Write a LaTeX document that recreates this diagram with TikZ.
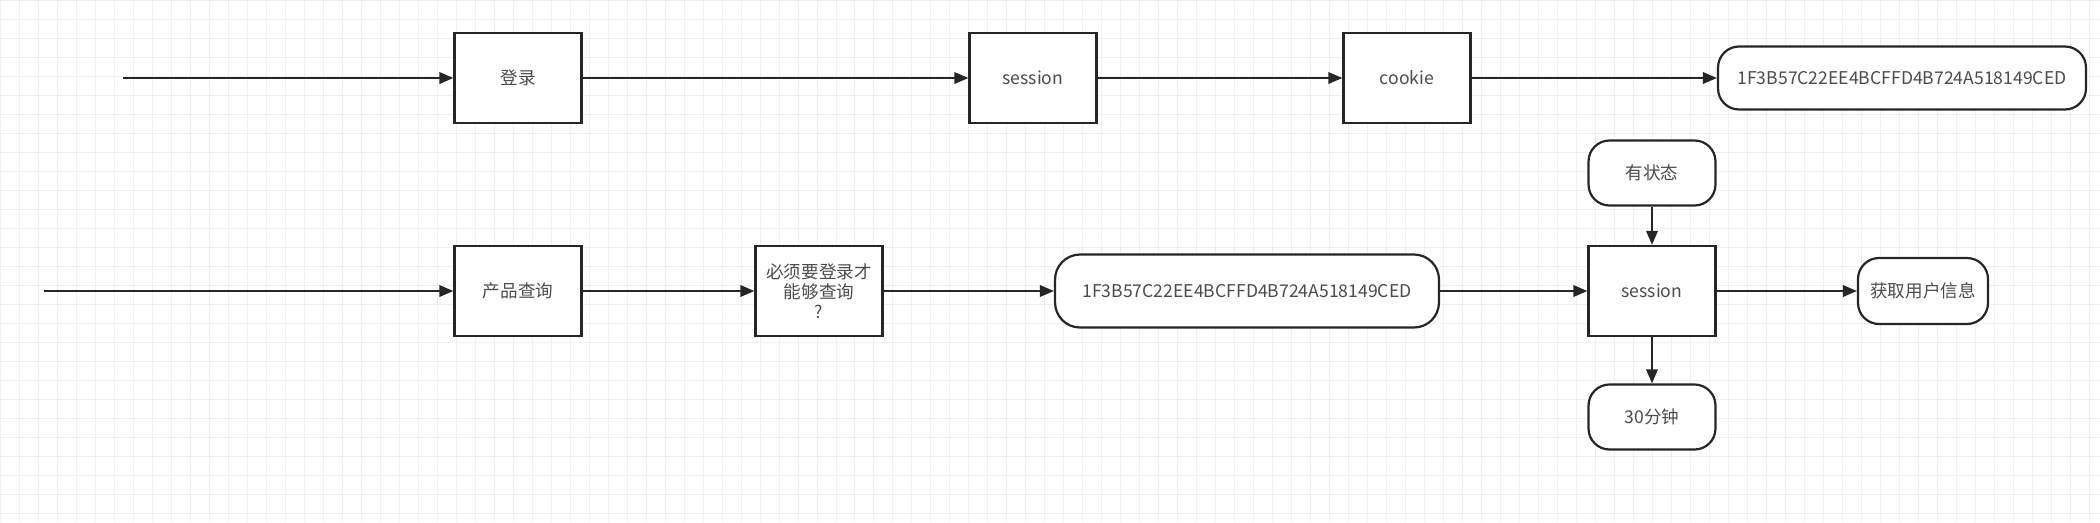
\documentclass[tikz,border=0pt]{standalone}
\usepackage{fontspec}
\setmainfont{Noto Sans CJK SC}
\usetikzlibrary{arrows.meta}

\tikzset{
  box/.style={draw=black!85, line width=1.25pt, fill=white, minimum width=2.54cm, minimum height=1.8cm,
    inner sep=2pt, text=black!70, font=\fontsize{10}{11.5}\selectfont},
  pill/.style={box, rounded corners=0.42cm, minimum height=1.3cm},
  link/.style={draw=black!85, line width=1.25pt, -{Triangle[length=8pt,width=6.5pt]}},
}

\begin{document}
\begin{tikzpicture}[x=0.02cm, y=-0.02cm]
\useasboundingbox (0,0) rectangle (2100,522);
\fill[white] (0,0) rectangle (2100,522);
\draw[black!6, step=0.38cm] (0,0) grid (2100,522);

% first row
\coordinate (start1) at (123,78);
\node[box] (login) at (518,78) {登录};
\node[box] (sess1) at (1033,78) {session};
\node[box] (cookie) at (1407,78) {cookie};
\node[pill, minimum width=7.36cm, minimum height=1.26cm] (id1) at (1902,78) {1F3B57C22EE4BCFFD4B724A518149CED};

\draw[link] (start1) -- (login);
\draw[link] (login) -- (sess1);
\draw[link] (sess1) -- (cookie);
\draw[link] (cookie) -- (id1);

% second row
\coordinate (start2) at (44,291);
\node[box] (query) at (518,291) {产品查询};
\node[box, align=center] (check) at (819,291) {必须要登录才\\能够查询\\?};
\node[pill, rounded corners=0.5cm, minimum width=7.68cm, minimum height=1.46cm] (id2) at (1247,291) {1F3B57C22EE4BCFFD4B724A518149CED};
\node[box] (sess2) at (1652,291) {session};
\node[pill] (state) at (1652,173) {有状态};
\node[pill] (timeout) at (1652,417) {30分钟};
\node[pill, minimum width=2.6cm, minimum height=1.32cm] (userinfo) at (1923,291) {获取用户信息};

\draw[link] (start2) -- (query);
\draw[link] (query) -- (check);
\draw[link] (check) -- (id2);
\draw[link] (id2) -- (sess2);
\draw[link] (sess2) -- (userinfo);
\draw[link] (state) -- (sess2);
\draw[link] (sess2) -- (timeout);

\end{tikzpicture}
\end{document}
